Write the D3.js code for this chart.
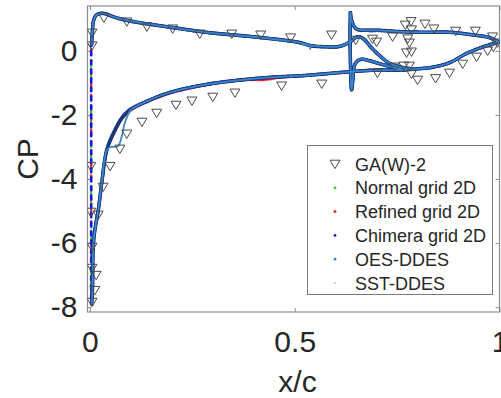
<!DOCTYPE html>
<html>
<head>
<meta charset="utf-8">
<script src="https://cdn.jsdelivr.net/npm/d3@7"></script>
<style>
body { margin: 0; background: #fff; }
text { font-family: "Liberation Sans", Arial, sans-serif; fill: #262626; }
</style>
</head>
<body>
<div id="main"></div>
<script>
// tick values and labels
const xTicks = [0, 0.5, 1];
const xTickLabels = ['0', '0.5', '1'];
const yTicks = [-8, -6, -4, -2, 0];
const yTickLabels = ['-8', '-6', '-4', '-2', '0'];

// experiment (GA(W)-2), [x/c, CP]
const expUpper = [[0.005,0.56],[0.005,0.16],[0.034,1.03],[0.09,0.91],[0.139,0.75],[0.202,0.69],[0.268,0.53],
  [0.346,0.53],[0.417,0.5],[0.49,0.41],[0.59,0.5],[0.649,0.34],[0.69,0.37],[0.7,0.28],[0.739,0.44],
  [0.77,0.81],[0.784,0.92],[0.785,0.66],[0.776,0.38],[0.78,0.25],[0.773,-0.06],[0.785,-0.03],
  [0.818,0.84],[0.84,0.69],[0.893,0.62],[0.941,0.62],[0.983,0.44]];
const expLower = [[0.002,-3.6],[0.002,-5.03],[0.005,-6.12],[0.005,-6.78],[0.015,-7.0],[0.012,-7.47],[0.005,-7.84],
  [0.02,-5.12],[0.032,-4.25],[0.049,-3.6],[0.073,-3.06],[0.09,-2.59],[0.127,-2.22],[0.163,-1.94],
  [0.21,-1.69],[0.249,-1.56],[0.3,-1.44],[0.354,-1.31],[0.468,-1.09],[0.566,-1.03],[0.702,-0.69],
  [0.744,-0.5],[0.766,-0.47],[0.78,-0.47],[0.785,-0.72],[0.8,-0.91],[0.844,-0.86],[0.878,-0.69],
  [0.91,-0.41],[0.944,-0.19],[0.971,0],[0.985,0.12],[0.995,0.25]];

// computed surfaces, [x/c, CP]
const leColumn = [[0.003,0.3],[0.003,-7.85]];
const mainPressure = [[0.004,0.2],[0.006,0.6],[0.009,0.95],[0.016,1.12],[0.032,1.17],[0.06,1.05],[0.09,0.95],
  [0.2,0.73],[0.29,0.57],[0.39,0.45],[0.488,0.31],[0.515,0.25],[0.54,0.16],[0.57,0.13],[0.61,0.14],
  [0.635,0.28],[0.65,0.42],[0.658,0.44],[0.67,0.35],[0.69,0.06],[0.71,-0.18],[0.73,-0.38],[0.756,-0.5],[0.78,-0.55]];
const ddesCove = [[0.52,0.19],[0.535,0.19],[0.538,0.06]];
const mainSuction = [[0.004,-7.9],[0.006,-7.5],[0.008,-6.1],[0.013,-5.5],[0.02,-5.0],[0.029,-4.1],[0.041,-3.1],
  [0.06,-2.5],[0.08,-2.06],[0.1,-1.82],[0.129,-1.63],[0.195,-1.3],[0.293,-1.03],[0.407,-0.86],[0.46,-0.81],
  [0.512,-0.78],[0.58,-0.71],[0.646,-0.64],[0.7,-0.6],[0.756,-0.6],[0.8,-0.56],[0.837,-0.51],[0.878,-0.37],
  [0.92,-0.08],[0.959,0.12],[0.985,0.22],[0.998,0.28]];
const refinedSuction = [[0.004,-7.9],[0.006,-7.5],[0.008,-6.1],[0.013,-5.5],[0.02,-5.0],[0.029,-4.1],[0.041,-3.15],
  [0.06,-2.55],[0.08,-2.1],[0.1,-1.86],[0.129,-1.66],[0.195,-1.33],[0.293,-1.05],[0.37,-0.92],[0.43,-0.9],[0.46,-0.84],
  [0.512,-0.79],[0.58,-0.71],[0.646,-0.64],[0.7,-0.6],[0.756,-0.6],[0.8,-0.56],[0.837,-0.5],[0.878,-0.37],
  [0.92,-0.08],[0.959,0.12],[0.985,0.22],[0.998,0.28]];
const oesSuction = [[0.004,-7.9],[0.006,-7.5],[0.008,-6.1],[0.013,-5.5],[0.02,-5.0],[0.029,-4.1],[0.041,-3.1],
  [0.05,-3.0],[0.068,-2.98],[0.077,-2.7],[0.085,-2.25],[0.1,-1.85],[0.129,-1.63],[0.195,-1.3],[0.293,-1.03],
  [0.407,-0.86],[0.46,-0.81],[0.512,-0.78],[0.58,-0.71],[0.646,-0.64],[0.7,-0.6],[0.756,-0.6],[0.8,-0.56],
  [0.837,-0.51],[0.878,-0.37],[0.92,-0.08],[0.959,0.12],[0.985,0.22],[0.998,0.28]];
const flapPressure = [[0.636,1.19],[0.64,0.9],[0.651,0.68],[0.68,0.64],[0.707,0.64],[0.756,0.6],[0.82,0.58],
  [0.878,0.58],[0.934,0.5],[0.976,0.41],[0.998,0.28]];
const flapSuction = [[0.636,1.19],[0.635,0.5],[0.636,-0.3],[0.637,-0.9],[0.639,-1.22],[0.642,-0.9],[0.646,-0.45],
  [0.655,-0.3],[0.666,-0.26],[0.68,-0.3],[0.707,-0.4],[0.73,-0.48],[0.749,-0.55],[0.77,-0.6]];

const seriesNames = ['Normal grid 2D', 'Refined grid 2D', 'Chimera grid 2D', 'OES-DDES', 'SST-DDES'];
const seriesColors = ['#19d919', '#f01818', '#1515e6', '#3a86c8', '#bdbdbd'];
const seriesCurves = [
  [leColumn, mainPressure, mainSuction, flapPressure, flapSuction],
  [leColumn, mainPressure, refinedSuction, flapPressure, flapSuction],
  [leColumn, mainPressure, mainSuction, flapPressure, flapSuction],
  [mainPressure, ddesCove, oesSuction, flapPressure, flapSuction],
  [mainPressure, mainSuction, flapPressure, flapSuction]
];
// drawing order: SST-DDES sits under the OES-DDES line
const drawOrder = [0, 1, 2, 4, 3];

const width = 501, height = 398;
const plotLeft = 87.5, plotRight = 499.5, plotTop = 6, plotBottom = 312;

const svg = d3.select('#main').append('svg')
  .attr('width', width)
  .attr('height', height);

const x = d3.scaleLinear().domain([-0.006, 1]).range([plotLeft, plotRight]);
const y = d3.scaleLinear().domain([-8.15, 1.4]).range([plotBottom, plotTop]);

svg.append('clipPath').attr('id', 'clip')
  .append('rect')
  .attr('x', plotLeft).attr('y', plotTop)
  .attr('width', plotRight - plotLeft).attr('height', plotBottom - plotTop);

// axes
const axisColor = '#8c8c8c';
const gx = svg.append('g')
  .attr('transform', `translate(0,${plotBottom})`)
  .call(d3.axisBottom(x).tickValues(xTicks).tickSizeInner(-4).tickSizeOuter(0).tickPadding(19)
    .tickFormat((d, i) => xTickLabels[i]));
const gxTop = svg.append('g')
  .attr('transform', `translate(0,${plotTop})`)
  .call(d3.axisTop(x).tickValues(xTicks).tickSizeInner(-4).tickSizeOuter(0).tickFormat(''));
const gy = svg.append('g')
  .attr('transform', `translate(${plotLeft},0)`)
  .call(d3.axisLeft(y).tickValues(yTicks).tickSizeInner(-4).tickSizeOuter(0).tickPadding(10)
    .tickFormat((d, i) => yTickLabels[i]));
const gyRight = svg.append('g')
  .attr('transform', `translate(${plotRight},0)`)
  .call(d3.axisRight(y).tickValues(yTicks).tickSizeInner(-4).tickSizeOuter(0).tickFormat(''));

[gx, gxTop, gy, gyRight].forEach(g => {
  g.select('.domain').remove();
  g.selectAll('line').attr('stroke', axisColor);
  g.selectAll('text').attr('font-size', 30).attr('fill', '#262626')
    .attr('font-family', '"Liberation Sans", Arial, sans-serif');
});

svg.append('rect')
  .attr('x', plotLeft).attr('y', plotTop)
  .attr('width', plotRight - plotLeft).attr('height', plotBottom - plotTop)
  .attr('fill', 'none').attr('stroke', axisColor).attr('stroke-width', 1.2);

svg.append('text')
  .attr('x', (plotLeft + plotRight) / 2 + 4).attr('y', 392)
  .attr('text-anchor', 'middle').attr('font-size', 30)
  .text('x/c');
svg.append('text')
  .attr('transform', 'translate(38,159) rotate(-90)')
  .attr('text-anchor', 'middle').attr('font-size', 30)
  .text('CP');

// data
const plot = svg.append('g').attr('clip-path', 'url(#clip)');

const line = d3.line()
  .x(d => x(d[0]))
  .y(d => y(d[1]))
  .curve(d3.curveCatmullRom.alpha(0.5));

const dotStyles = [
  { w: 2.6, dash: '0 2.4', color: '#19d919' },
  { w: 2.6, dash: '0 2.2', color: '#f01818' },
  { w: 3.6, dash: '0 1.6', color: '#1515e6' },
  { w: 1.8, dash: null, color: '#3a86c8' },
  { w: 3.6, dash: '0 1.2', color: '#173b78' }
];

drawOrder.forEach(s => {
  seriesCurves[s].forEach(c => {
    const p = plot.append('path')
      .attr('d', line(c))
      .attr('fill', 'none')
      .attr('stroke', dotStyles[s].color)
      .attr('stroke-width', dotStyles[s].w)
      .attr('stroke-linecap', 'round');
    if (c === leColumn) {
      p.attr('stroke-width', s === 2 ? 2.6 : 2.2)
        .attr('stroke-dasharray', s === 2 ? '4 5' : '2.5 9')
        .attr('stroke-dashoffset', s * 4);
    } else if (dotStyles[s].dash) {
      p.attr('stroke-dasharray', dotStyles[s].dash);
    }
  });
});

// experimental markers
const tri = 'M-5,-3.8L5,-3.8L0,4.6Z';
plot.selectAll('path.exp')
  .data(expUpper.concat(expLower))
  .enter()
  .append('path')
  .attr('class', 'exp')
  .attr('d', tri)
  .attr('transform', d => `translate(${x(d[0])},${y(d[1])})`)
  .attr('fill', 'none')
  .attr('stroke', '#4a4a4a')
  .attr('stroke-width', 1);

// legend
const lg = svg.append('g');
lg.append('rect')
  .attr('x', 307.5).attr('y', 145.5).attr('width', 185).attr('height', 149)
  .attr('fill', '#fff').attr('stroke', '#7a7a7a').attr('stroke-width', 1);
const legendNames = ['GA(W)-2'].concat(seriesNames);
legendNames.forEach((name, i) => {
  const cy = 164 + i * 23.8;
  if (i === 0) {
    lg.append('path').attr('d', tri)
      .attr('transform', `translate(335,${cy})`)
      .attr('fill', 'none').attr('stroke', '#4a4a4a').attr('stroke-width', 1);
  } else {
    lg.append('circle').attr('cx', 335).attr('cy', cy).attr('r', i === 5 ? 0.9 : 1.4)
      .attr('fill', seriesColors[i - 1]);
  }
  lg.append('text')
    .attr('x', 355).attr('y', cy + 6.5)
    .attr('font-size', 18)
    .text(name);
});
</script>
</body>
</html>
